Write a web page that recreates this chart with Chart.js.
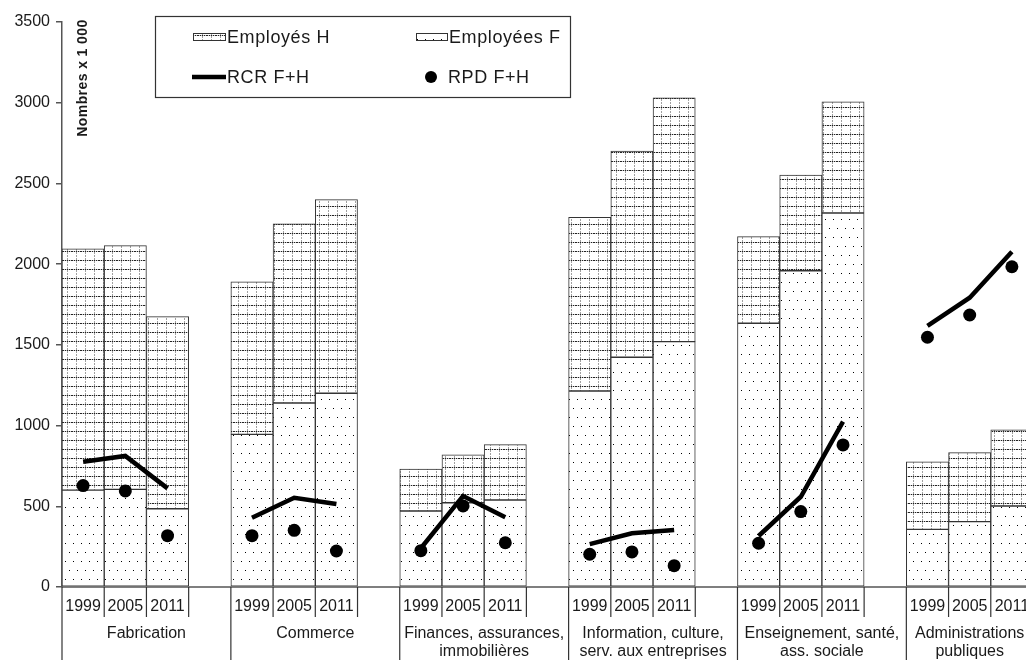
<!DOCTYPE html>
<html>
<head>
<meta charset="utf-8">
<script src="https://cdn.jsdelivr.net/npm/chart.js@4.4.1/dist/chart.umd.min.js"></script>
<style>
  html, body { margin: 0; padding: 0; background: #fff; overflow: hidden; }
  canvas { display: block; }
</style>
</head>
<body>
<canvas id="graphique" width="1040" height="660"></canvas>
<script>
// Données (milliers)
const secteurs = [
    ['Fabrication'],
    ['Commerce'],
    ['Finances, assurances,', 'immobilières'],
    ['Information, culture,', 'serv. aux entreprises'],
    ['Enseignement, santé,', 'ass. sociale'],
    ['Administrations', 'publiques']
];
const annees = ['1999', '2005', '2011'];

const employeesF = [600, 605, 485,   945, 1140, 1200,   471, 522, 539,   1214, 1423, 1520,   1634, 1959, 2317,   357, 405, 502];
const employesH  = [1495, 1510, 1190, 945, 1110, 1200,  260, 296, 343,   1076, 1277, 1510,   536, 593, 688,      419, 427, 471];
const rcrFH      = [776, 812, 611,   429, 553, 514,     240, 564, 432,   266, 333, 353,      316, 559, 1024,     1617, 1792, 2077];
const rpdFH      = [628, 595, 318,   318, 351, 223,     225, 502, 274,   203, 217, 132,      271, 467, 880,      1547, 1685, 1984];

const yMax = 3500;
const yPas = 500;

// 3 années + une case vide entre les secteurs
const libelles = secteurs.flatMap((s, i) => i < secteurs.length - 1 ? [...annees, ''] : [...annees]);
function parCase(valeurs) {
    const out = [];
    secteurs.forEach((s, i) => {
        for (let k = 0; k < annees.length; k++) out.push(valeurs[i * 3 + k]);
        if (i < secteurs.length - 1) out.push(null);
    });
    return out;
}

// Motifs de remplissage
function motifPoints() {
    const c = document.createElement('canvas');
    c.width = 8; c.height = 18;
    const g = c.getContext('2d');
    g.fillStyle = '#fff'; g.fillRect(0, 0, 8, 18);
    g.fillStyle = '#000';
    g.fillRect(1, 3, 1, 1);
    g.fillRect(5, 12, 1, 1);
    return g.createPattern(c, 'repeat');
}
function motifGrille() {
    const c = document.createElement('canvas');
    c.width = 9; c.height = 9;
    const g = c.getContext('2d');
    g.fillStyle = '#fff'; g.fillRect(0, 0, 9, 9);
    for (let y = 0; y < 9; y++) {
        g.fillStyle = (y % 3 === 2) ? '#fff' : '#a0a0a0';
        g.fillRect(4, y, 1, 1);
    }
    for (let x = 0; x < 9; x++) {
        g.fillStyle = (x % 2 === 0) ? '#222' : '#c8c8c8';
        g.fillRect(x, 8, 1, 1);
    }
    return g.createPattern(c, 'repeat');
}
const remplF = motifPoints();
const remplH = motifGrille();

const police = '"Liberation Sans", Arial, sans-serif';
const couleurTexte = '#1a1a1a';

// Axe des x, légende et titre dessinés à la main
const decor = {
    id: 'decor',
    afterDraw(chart) {
        const { ctx, chartArea: ca, scales: { x } } = chart;
        const pas = x.getPixelForValue(1) - x.getPixelForValue(0);
        const trait = (x1, y1, x2, y2) => {
            ctx.beginPath(); ctx.moveTo(x1, y1); ctx.lineTo(x2, y2); ctx.stroke();
        };
        ctx.save();

        ctx.strokeStyle = '#555';
        ctx.lineWidth = 1.5;
        trait(ca.left, ca.bottom, chart.width, ca.bottom);

        ctx.fillStyle = couleurTexte;
        ctx.font = '16px ' + police;
        ctx.textAlign = 'center';
        ctx.textBaseline = 'middle';
        secteurs.forEach((noms, g) => {
            const x0 = x.getPixelForValue(g * 4) - pas / 2;
            ctx.strokeStyle = '#333';
            ctx.lineWidth = 1.2;
            trait(x0, ca.bottom, x0, chart.height);
            for (let k = 1; k <= 3; k++) trait(x0 + k * pas, ca.bottom, x0 + k * pas, ca.bottom + 30);
            annees.forEach((a, k) => ctx.fillText(a, x.getPixelForValue(g * 4 + k), ca.bottom + 20));
            noms.forEach((n, l) => ctx.fillText(n, x0 + 1.5 * pas + (g < secteurs.length - 1 ? pas / 2 : 0), ca.bottom + 47 + l * 18));
        });

        // titre de l'axe des y
        ctx.save();
        ctx.translate(83, 78);
        ctx.rotate(-Math.PI / 2);
        ctx.font = 'bold 14px ' + police;
        ctx.letterSpacing = '0.4px';
        ctx.fillText('Nombres x 1 000', 0, 0);
        ctx.restore();

        // légende
        ctx.fillStyle = '#fff';
        ctx.fillRect(155, 16, 415, 81);
        ctx.strokeStyle = '#333';
        ctx.lineWidth = 1.2;
        ctx.strokeRect(155.5, 16.5, 415, 81);

        ctx.lineWidth = 1;
        ctx.fillStyle = remplH; ctx.fillRect(193, 33, 33, 8); ctx.strokeRect(193.5, 33.5, 32, 7);
        ctx.fillStyle = remplF; ctx.fillRect(416, 33, 32, 8); ctx.strokeRect(416.5, 33.5, 31, 7);

        ctx.strokeStyle = '#000';
        ctx.lineWidth = 4.5;
        trait(192, 77, 226, 77);
        ctx.fillStyle = '#000';
        ctx.beginPath(); ctx.arc(431, 77, 6, 0, Math.PI * 2); ctx.fill();

        ctx.fillStyle = couleurTexte;
        ctx.font = '18px ' + police;
        ctx.letterSpacing = '0.6px';
        ctx.textAlign = 'left';
        ctx.fillText('Employés H', 227, 38);
        ctx.fillText('Employées F', 449, 38);
        ctx.fillText('RCR F+H', 227, 78);
        ctx.fillText('RPD F+H', 448, 78);

        ctx.restore();
    }
};

const ctx = document.getElementById('graphique').getContext('2d');

new Chart(ctx, {
    type: 'bar',
    data: {
        labels: libelles,
        datasets: [
            {
                label: 'Employées F',
                data: parCase(employeesF),
                backgroundColor: remplF,
                borderColor: '#333',
                borderWidth: 1,
                borderSkipped: false,
                stack: 'emplois',
                categoryPercentage: 1,
                barPercentage: 1,
                order: 3
            },
            {
                label: 'Employés H',
                data: parCase(employesH),
                backgroundColor: remplH,
                borderColor: '#333',
                borderWidth: 1,
                borderSkipped: false,
                stack: 'emplois',
                categoryPercentage: 1,
                barPercentage: 1,
                order: 3
            },
            {
                type: 'line',
                label: 'RCR F+H',
                data: parCase(rcrFH),
                borderColor: '#000',
                borderWidth: 4.5,
                pointRadius: 0,
                spanGaps: false,
                borderJoinStyle: 'miter',
                stack: 'rcr',
                order: 2
            },
            {
                type: 'line',
                label: 'RPD F+H',
                data: parCase(rpdFH),
                showLine: false,
                pointRadius: 6.5,
                pointBackgroundColor: '#000',
                pointBorderWidth: 0,
                stack: 'rpd',
                order: 1
            }
        ]
    },
    options: {
        responsive: false,
        animation: false,
        layout: { padding: { top: 22, right: 7, bottom: 73, left: 0 } },
        plugins: {
            legend: { display: false },
            tooltip: { enabled: false }
        },
        scales: {
            x: {
                display: false,
                stacked: true,
                offset: true
            },
            y: {
                stacked: true,
                min: 0,
                max: yMax,
                afterFit: (s) => { s.width = 62; },
                ticks: {
                    stepSize: yPas,
                    padding: 6,
                    color: couleurTexte,
                    font: { family: police, size: 16 },
                    callback: (v) => String(v)
                },
                grid: {
                    drawOnChartArea: false,
                    tickLength: 6,
                    color: '#555',
                    lineWidth: 1.5
                },
                border: { color: '#555', width: 1.5 }
            }
        }
    },
    plugins: [decor]
});
</script>
</body>
</html>
